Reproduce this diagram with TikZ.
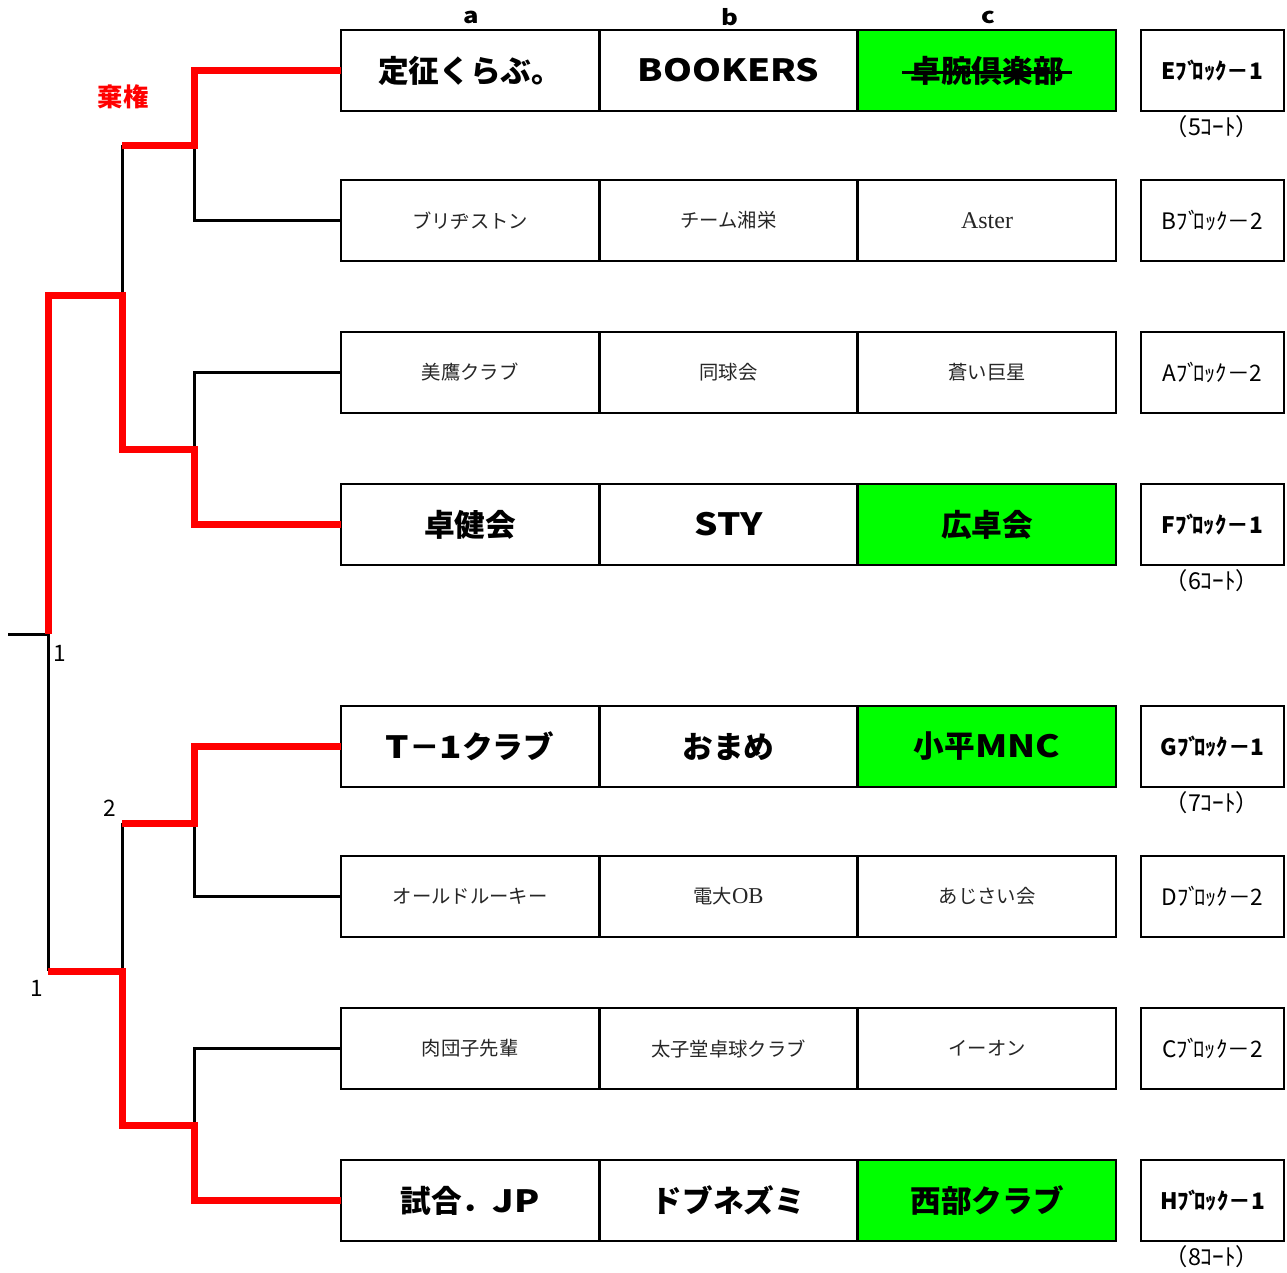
\documentclass[tikz,border=0pt]{standalone}
\usepackage{fontspec}
\setmainfont{Noto Sans CJK JP}
\newfontfamily\lserif{Liberation Serif}
\newfontfamily\wlat{Noto Sans CJK JP}[FakeStretch=1.2]
\newcommand\blkname[2]{#1ﾌﾞ\kern-.25emﾛｯｸ－#2}
\usetikzlibrary{calc}
\definecolor{win}{HTML}{00FF00}
\definecolor{lose}{HTML}{FF0000}
\begin{document}
\begin{tikzpicture}[x=0.75pt,y=-0.75pt,
  cell/.style={draw=black,line width=1.9pt,minimum width=193.5pt,minimum height=60.75pt,inner sep=0pt,outer sep=0pt},
  wincell/.style={cell,fill=win},
  strong/.style={font=\fontsize{23}{23}\selectfont\bfseries},
  weak/.style={font=\fontsize{14.5}{14.5}\selectfont,text=black!85},
  blk/.style={draw=black,line width=1.9pt,minimum width=107.25pt,minimum height=60.75pt,inner sep=0pt,outer sep=0pt,font=\fontsize{17}{17}\selectfont\bfseries},
  blkw/.style={blk,font=\fontsize{17}{17}\selectfont},
  court/.style={font=\fontsize{17.5}{17.5}\selectfont,inner sep=0pt},
  hdr/.style={font=\wlat\fontsize{16}{16}\selectfont\bfseries,inner sep=0pt},
  num/.style={font=\fontsize{17}{17}\selectfont,inner sep=0pt},
  thin/.style={line width=2.25pt,line join=miter},
  thick/.style={draw=lose,line width=5.25pt,line join=miter},
]
\useasboundingbox (0,0) rectangle (1287,1272);
\fill[white] (0,0) rectangle (1287,1272);

% column headers
\node[hdr] (ha) at (471,17) {a};
\node[hdr] (hb) at (730,17) {b};
\node[hdr] (hc) at (988,17) {c};

% row 1
\node[cell,strong] (r1a) at (470,70.5) {定征くらぶ。};
\node[cell,strong] (r1b) at (728.5,70.5) {\wlat BOOKERS};
\node[wincell,strong] (r1c) at (987,70.5) {卓腕倶楽部};
\node[blk] (r1L) at (1212.5,70.5) {\blkname{E}{1}};
\node[court] (r1K) at (1212,127) {（5ｺｰﾄ）};
% row 2
\node[cell,weak] (r2a) at (470,220.5) {ブリヂストン};
\node[cell,weak] (r2b) at (728.5,220.5) {チーム湘栄};
\node[cell,weak] (r2c) at (987,220.5) {\lserif\fontsize{18}{18}\selectfont Aster};
\node[blkw] (r2L) at (1212.5,220.5) {\blkname{B}{2}};
% row 3
\node[cell,weak] (r3a) at (470,372.5) {美鷹クラブ};
\node[cell,weak] (r3b) at (728.5,372.5) {同球会};
\node[cell,weak] (r3c) at (987,372.5) {蒼い巨星};
\node[blkw] (r3L) at (1212.5,372.5) {\blkname{A}{2}};
% row 4
\node[cell,strong] (r4a) at (470,524.5) {卓健会};
\node[cell,strong] (r4b) at (728.5,524.5) {\wlat STY};
\node[wincell,strong] (r4c) at (987,524.5) {広卓会};
\node[blk] (r4L) at (1212.5,524.5) {\blkname{F}{1}};
\node[court] (r4K) at (1212,581) {（6ｺｰﾄ）};
% row 5
\node[cell,strong] (r5a) at (470,746.5) {{\wlat T}－{\wlat 1}クラブ};
\node[cell,strong] (r5b) at (728.5,746.5) {おまめ};
\node[wincell,strong] (r5c) at (987,746.5) {小平{\wlat MNC}};
\node[blk] (r5L) at (1212.5,746.5) {\blkname{G}{1}};
\node[court] (r5K) at (1212,803) {（7ｺｰﾄ）};
% row 6
\node[cell,weak] (r6a) at (470,896.5) {オールドルーキー};
\node[cell,weak] (r6b) at (728.5,896.5) {電大{\lserif\fontsize{17}{17}\selectfont OB}};
\node[cell,weak] (r6c) at (987,896.5) {あじさい会};
\node[blkw] (r6L) at (1212.5,896.5) {\blkname{D}{2}};
% row 7
\node[cell,weak] (r7a) at (470,1048.5) {肉団子先輩};
\node[cell,weak] (r7b) at (728.5,1048.5) {太子堂卓球クラブ};
\node[cell,weak] (r7c) at (987,1048.5) {イーオン};
\node[blkw] (r7L) at (1212.5,1048.5) {\blkname{C}{2}};
% row 8
\node[cell,strong] (r8a) at (470,1200.5) {試合．{\wlat JP}};
\node[cell,strong] (r8b) at (728.5,1200.5) {ドブネズミ};
\node[wincell,strong] (r8c) at (987,1200.5) {西部クラブ};
\node[blk] (r8L) at (1212.5,1200.5) {\blkname{H}{1}};
\node[court] (r8K) at (1212,1257) {（8ｺｰﾄ）};

% strike-through
\draw[line width=1.6pt] ($(r1c.center)+(-85,2)$) -- ($(r1c.center)+(85,2)$);

% bracket junction coordinates
\coordinate (q1) at (194,145);
\coordinate (q2) at (194,449);
\coordinate (q3) at (194,823);
\coordinate (q4) at (194,1125);
\coordinate (s1) at (122,295);
\coordinate (s2) at (122,971);
\coordinate (f) at (48,634);
\coordinate (fout) at (8,634);

% black (losing) lines
\draw[thin] (r2a.west) -| (q1);
\draw[thin] (q1 -| s1) -- (s1);
\draw[thin] (r3a.west) -| (q2);
\draw[thin] (fout) -- (f) -- (f |- s2);
\draw[thin] (r6a.west) -| (q3);
\draw[thin] (q3 -| s2) -- (s2);
\draw[thin] (r7a.west) -| (q4);

% red (winning) lines
\draw[thick] (r1a.west) -| (q1) -- (q1 -| s1);
\draw[thick] (r4a.west) -| (q2) -- (q2 -| s1) -- (s1) -- (s1 -| f) -- (f);
\draw[thick] (r5a.west) -| (q3) -- (q3 -| s2);
\draw[thick] (r8a.west) -| (q4) -- (q4 -| s2) -- (s2) -- (s2 -| f);

% labels
\node[font=\fontsize{19}{19}\selectfont\bfseries,text=lose,inner sep=0pt] (kiken) at (123,97) {棄権};
\node[num] (n1) at (60,653) {1};
\node[num] (n2) at (110,808) {2};
\node[num] (n3) at (37,988) {1};
\end{tikzpicture}
\end{document}
